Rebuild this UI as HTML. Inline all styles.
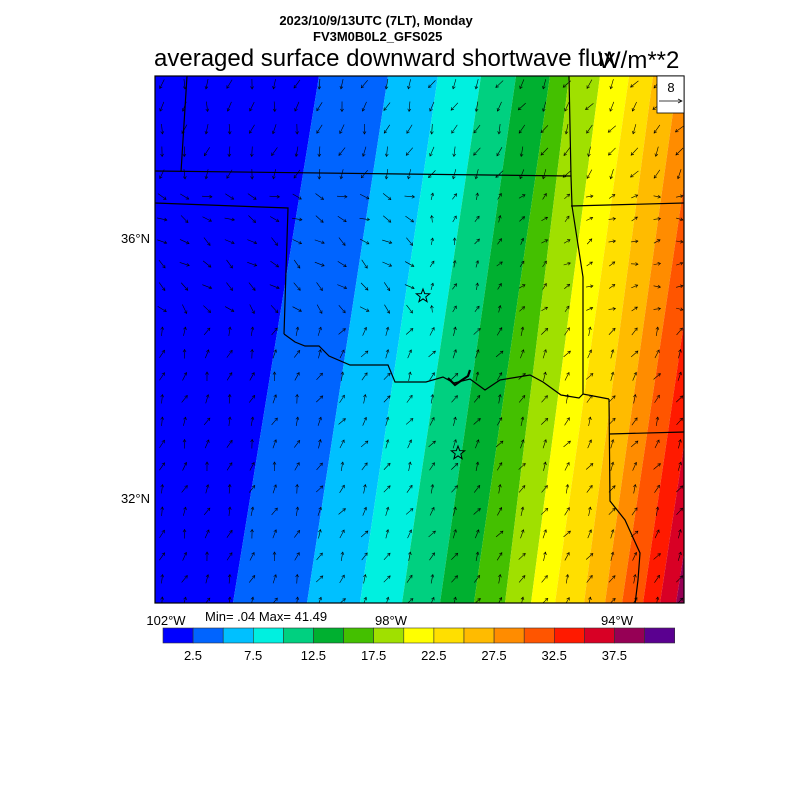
<!DOCTYPE html>
<html><head><meta charset="utf-8"><style>
body{margin:0;background:#fff;width:800px;height:800px;overflow:hidden;font-family:"Liberation Sans",sans-serif}
svg{position:absolute;left:0;top:0}
</style></head><body>
<svg id="s" width="800" height="800" xmlns="http://www.w3.org/2000/svg" font-family="Liberation Sans, sans-serif">
<defs><clipPath id="c"><rect x="155" y="76" width="529" height="527"/></clipPath></defs>
<g id="bands" clip-path="url(#c)"></g>
<g id="arrows" clip-path="url(#c)" stroke="#000" stroke-width="0.6" fill="none"></g>
<g clip-path="url(#c)" stroke="#000" stroke-width="1.2" fill="none">
<polyline points="155,171 571,176"/>
<polyline points="187,76 181,172"/>
<polyline points="155,203 288,208 284,334"/>
<polyline points="569,76 571,176 572,206 583,277 583,394"/>
<polyline points="571,206 684,203"/>
<polyline points="609,434 684,432"/>
<polyline points="609,399 610,501 625,520 640,553 638,580 635,604"/>
<polyline points="284,334 295,342 305,346 319,346 329,356 350,365 388,365 395,382 426,382 443,377 454,383 470,379 485,390 500,380 512,378 530,375 543,382 561,395 579,398 583,394 609,399"/>
<polyline stroke-width="2.2" points="448,378 455,385 462,380 468,376 470,370"/>
</g>
<g fill="none" stroke="#000" stroke-width="1">
<polygon id="st1" points=""/><polygon id="st2" points=""/>
</g>
<rect x="155" y="76" width="529" height="527" fill="none" stroke="#000" stroke-width="1.2"/>
<rect x="657" y="76" width="27" height="37" fill="#fff" stroke="#000" stroke-width="0.8"/>
<text x="671" y="92" font-size="13" text-anchor="middle">8</text>
<line x1="659" y1="101" x2="682" y2="101" stroke="#000" stroke-width="0.7"/>
<polyline points="678,99 682,101 678,103" fill="none" stroke="#000" stroke-width="0.7"/>
<text x="376" y="25" font-size="13" font-weight="bold" text-anchor="middle">2023/10/9/13UTC (7LT), Monday</text>
<text x="313" y="41" font-size="13" font-weight="bold">FV3M0B0L2_GFS025</text>
<text x="154" y="66" font-size="24">averaged surface downward shortwave flux</text>
<text x="598" y="68" font-size="24">W/m**2</text>
<text x="150" y="243" font-size="13" text-anchor="end">36°N</text>
<text x="150" y="503" font-size="13" text-anchor="end">32°N</text>
<text x="166" y="625" font-size="13" text-anchor="middle">102°W</text>
<text x="391" y="625" font-size="13" text-anchor="middle">98°W</text>
<text x="617" y="625" font-size="13" text-anchor="middle">94°W</text>
<text x="205" y="621" font-size="13">Min= .04 Max= 41.49</text>
<g id="cb"></g>
</svg>
<script>
var cols=["#0000ff","#0064ff","#00c0ff","#00f0e0","#00d080","#00b030","#44c000","#a0e000","#ffff00","#ffdf00","#ffbb00","#ff8c00","#ff5500","#ff1a00","#d80025","#960055","#5a0090"];
var top_=[319,388,438,481,516,550,569,600,629,653,678,700,720,740,760];
var bot=[233,307,360,402,440,474,505,531,555,584,605,622,643,660,676];
var ns="http://www.w3.org/2000/svg";
function el(t,a,p){var e=document.createElementNS(ns,t);for(var k in a)e.setAttribute(k,a[k]);p.appendChild(e);return e;}
var B=document.getElementById("bands");
var T=[100].concat(top_).concat([900]),Bo=[100].concat(bot).concat([900]);
for(var i=0;i<17;i++){el("polygon",{points:T[i]+",76 "+T[i+1]+",76 "+Bo[i+1]+",603 "+Bo[i]+",603",fill:cols[i]},B);}
var cb=document.getElementById("cb");
for(var i=0;i<17;i++){el("rect",{x:163+i*30.1,y:628,width:30.1,height:15,fill:cols[i],stroke:"#333","stroke-width":0.6},cb);}
var labs=["2.5","7.5","12.5","17.5","22.5","27.5","32.5","37.5"];
for(var i=0;i<8;i++){var t=el("text",{x:193+i*60.2,y:660,"font-size":13,"text-anchor":"middle"},cb);t.textContent=labs[i];}
function star(cx,cy,r){var p=[];for(var i=0;i<10;i++){var a=-Math.PI/2+i*Math.PI/5,rr=i%2?r*0.42:r;p.push((cx+rr*Math.cos(a)).toFixed(1)+","+(cy+rr*Math.sin(a)).toFixed(1));}return p.join(" ");}
document.getElementById("st1").setAttribute("points",star(423,296,7));
document.getElementById("st2").setAttribute("points",star(458,453,7));
var A=document.getElementById("arrows");
for(var y=84;y<603;y+=22.5){for(var x=162;x<684;x+=22.5){
 var ang,len;
 if(y<180){ang=100+ (x-155)*0.05;len=10;}
 else if(y<330 && x<420){ang=20+(y-180)*0.2;len=10;}
 else if(y<330){ang=-80+(x-420)*0.3;len=7;}
 else {ang=-60-(x<300?10:0);len=9;}
 ang+=Math.sin(x*0.37+y*0.21)*20;
 var r=ang*Math.PI/180,dx=Math.cos(r)*len,dy=Math.sin(r)*len;
 var x1=x-dx/2,y1=y-dy/2,x2=x+dx/2,y2=y+dy/2;
 el("line",{x1:x1,y1:y1,x2:x2,y2:y2},A);
 var h=3,a1=r+2.6,a2=r-2.6;
 el("polyline",{points:(x2+h*Math.cos(a1))+","+(y2+h*Math.sin(a1))+" "+x2+","+y2+" "+(x2+h*Math.cos(a2))+","+(y2+h*Math.sin(a2))},A);
}}
</script>
</body></html>
